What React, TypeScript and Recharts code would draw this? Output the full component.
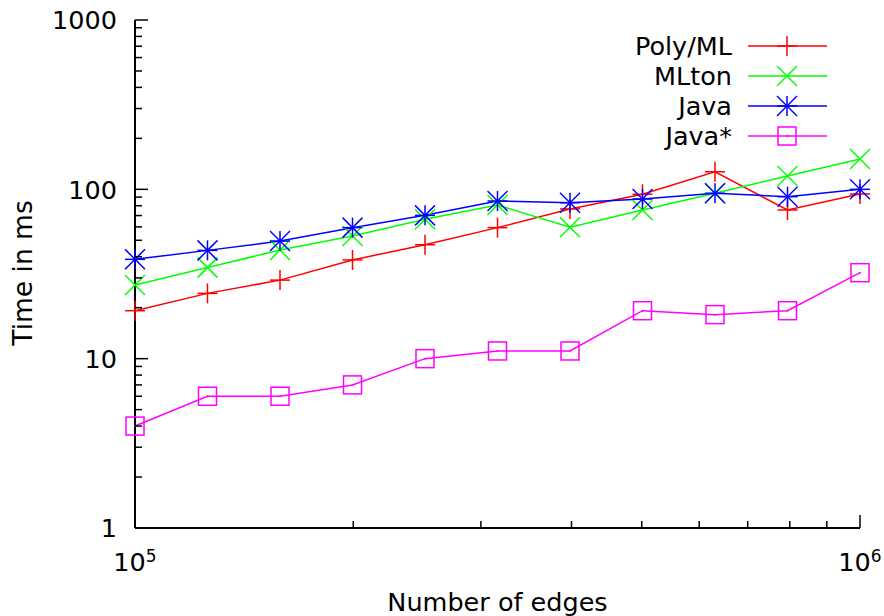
import { LineChart, Line, XAxis, YAxis, Legend, Label } from "recharts";

// number of edges per run (log-spaced)
const edges = [100000, 125893, 158489, 199526, 251189, 316228, 398107, 501187, 630957, 794328, 1000000];

// running times in ms
const polyMl = [19.2, 24.3, 29.1, 38.3, 47.1, 59.4, 76.6, 93.5, 127, 75.5, 93.9];
const mlton = [27.2, 34.5, 43.8, 53, 66.5, 80.8, 59.7, 75.5, 94.8, 120, 151];
const java = [38.6, 43.6, 49.5, 59.4, 70.2, 85.3, 83.4, 87.7, 94.8, 90.5, 100];
const javaStar = [4, 6, 6, 7, 10, 11.1, 11.1, 19.2, 18.2, 19.2, 32.2];

const xTicks = [100000, 200000, 300000, 400000, 500000, 600000, 700000, 800000, 900000, 1000000];
const xMajor = [100000, 1000000];
const xLabels: Record<number, [string, string]> = { 100000: ["10", "5"], 1000000: ["10", "6"] };

const yTicks = [
  1, 2, 3, 4, 5, 6, 7, 8, 9,
  10, 20, 30, 40, 50, 60, 70, 80, 90,
  100, 200, 300, 400, 500, 600, 700, 800, 900,
  1000,
];
const yMajor = [1, 10, 100, 1000];

const FONT = "'DejaVu Sans', sans-serif";
const FS = 25.5;

type Shape = "plus" | "cross" | "star" | "square";

const series: { key: string; name: string; color: string; shape: Shape; values: number[] }[] = [
  { key: "polyml", name: "Poly/ML", color: "#ff0000", shape: "plus", values: polyMl },
  { key: "mlton", name: "MLton", color: "#00ff00", shape: "cross", values: mlton },
  { key: "java", name: "Java", color: "#0000ff", shape: "star", values: java },
  { key: "javastar", name: "Java*", color: "#ff00ff", shape: "square", values: javaStar },
];

const rows = edges.map((e, i) => {
  const row: Record<string, number> = { edges: e };
  series.forEach((s) => (row[s.key] = s.values[i]));
  return row;
});

function Marker({ x, y, shape, color }: { x: number; y: number; shape: Shape; color: string }) {
  const r = 10;
  const sw = 1.5;
  const plus = (
    <>
      <line x1={x - r} x2={x + r} y1={y} y2={y} />
      <line x1={x} x2={x} y1={y - r} y2={y + r} />
    </>
  );
  const cross = (
    <>
      <line x1={x - r} x2={x + r} y1={y - r} y2={y + r} />
      <line x1={x - r} x2={x + r} y1={y + r} y2={y - r} />
    </>
  );
  return (
    <g stroke={color} strokeWidth={sw} fill="none">
      {shape === "plus" && plus}
      {shape === "cross" && cross}
      {shape === "star" && (
        <>
          {plus}
          {cross}
        </>
      )}
      {shape === "square" && (
        <>
          <rect x={x - 9} y={y - 9} width={18} height={18} />
          <circle cx={x} cy={y} r={1} fill={color} stroke="none" />
        </>
      )}
    </g>
  );
}

const makeDot = (shape: Shape, color: string) => (p: any) => {
  if (p.cx == null || p.cy == null) return <g key={p.key ?? p.index} />;
  return (
    <g key={p.key ?? p.index}>
      <Marker x={p.cx} y={p.cy} shape={shape} color={color} />
    </g>
  );
};

const LeftTick = (p: any) => {
  const v = p.payload.value;
  const major = yMajor.includes(v);
  return (
    <g>
      <line x1={p.x} x2={p.x + (major ? 13 : 7)} y1={p.y} y2={p.y} stroke="#000" strokeWidth={1.5} />
      {major && (
        <text x={p.x - 18} y={p.y + 9.2} textAnchor="end" fontFamily={FONT} fontSize={FS} fill="#000">
          {v}
        </text>
      )}
    </g>
  );
};

const RightTick = (p: any) => {
  const major = yMajor.includes(p.payload.value);
  return <line x1={p.x} x2={p.x - (major ? 13 : 7)} y1={p.y} y2={p.y} stroke="#000" strokeWidth={1.5} />;
};

const BottomTick = (p: any) => {
  const v = p.payload.value;
  const major = xMajor.includes(v);
  const lbl = xLabels[v];
  return (
    <g>
      <line x1={p.x} x2={p.x} y1={p.y} y2={p.y - (major ? 13 : 7)} stroke="#000" strokeWidth={1.5} />
      {lbl && (
        <text x={p.x} y={p.y + 43} textAnchor="middle" fontFamily={FONT} fontSize={FS} fill="#000">
          <tspan>{lbl[0]}</tspan>
          <tspan dy={-9} fontSize={17}>
            {lbl[1]}
          </tspan>
        </text>
      )}
    </g>
  );
};

const TopTick = (p: any) => {
  const major = xMajor.includes(p.payload.value);
  return <line x1={p.x} x2={p.x} y1={p.y} y2={p.y + (major ? 13 : 7)} stroke="#000" strokeWidth={1.5} />;
};

const KeyBox = () => (
  <svg width={884} height={616}>
    {series.map((s, i) => {
      const y = 46 + i * 30;
      return (
        <g key={s.key}>
          <text x={732} y={y + 9.2} textAnchor="end" fontFamily={FONT} fontSize={FS} fill="#000">
            {s.name}
          </text>
          <line x1={748} x2={827} y1={y} y2={y} stroke={s.color} strokeWidth={1.5} />
          <Marker x={787} y={y} shape={s.shape} color={s.color} />
        </g>
      );
    })}
  </svg>
);

const axisLine = { stroke: "#000", strokeWidth: 2 };

export default function App() {
  return (
    <div style={{ position: "fixed", left: 0, top: 0, width: 884, height: 616, background: "#fff" }}>
      <LineChart width={884} height={616} data={rows} margin={{ top: 20, right: 24, left: 0, bottom: 0 }}>
        <XAxis
          xAxisId="b"
          dataKey="edges"
          type="number"
          scale="log"
          domain={[100000, 1000000]}
          ticks={xTicks}
          interval={0}
          height={88}
          tickSize={0}
          tickMargin={0}
          tickLine={false}
          axisLine={axisLine}
          tick={BottomTick}
        >
          <Label
            content={(p: any) => (
              <text
                x={p.viewBox.x + p.viewBox.width / 2}
                y={p.viewBox.y + 83}
                textAnchor="middle"
                fontFamily={FONT}
                fontSize={FS}
                fill="#000"
              >
                Number of edges
              </text>
            )}
          />
        </XAxis>
        <XAxis
          xAxisId="t"
          orientation="top"
          dataKey="edges"
          type="number"
          scale="log"
          domain={[100000, 1000000]}
          ticks={xTicks}
          interval={0}
          height={0}
          tickSize={0}
          tickMargin={0}
          tickLine={false}
          axisLine={axisLine}
          tick={TopTick}
        />
        <YAxis
          yAxisId="l"
          type="number"
          scale="log"
          domain={[1, 1000]}
          ticks={yTicks}
          interval={0}
          width={135}
          tickSize={0}
          tickMargin={0}
          tickLine={false}
          axisLine={axisLine}
          tick={LeftTick}
        >
          <Label
            content={() => (
              <text
                x={32}
                y={273}
                transform="rotate(-90 32 273)"
                textAnchor="middle"
                fontFamily={FONT}
                fontSize={26.5}
                fill="#000"
              >
                Time in ms
              </text>
            )}
          />
        </YAxis>
        <YAxis
          yAxisId="r"
          orientation="right"
          type="number"
          scale="log"
          domain={[1, 1000]}
          ticks={yTicks}
          interval={0}
          width={0}
          tickSize={0}
          tickMargin={0}
          tickLine={false}
          axisLine={axisLine}
          tick={RightTick}
        />
        {series.map((s) => (
          <Line
            key={s.key}
            xAxisId="b"
            yAxisId="l"
            dataKey={s.key}
            name={s.name}
            type="linear"
            stroke={s.color}
            strokeWidth={1.5}
            dot={makeDot(s.shape, s.color)}
            activeDot={false}
            isAnimationActive={false}
          />
        ))}
        <Legend
          layout="horizontal"
          verticalAlign="middle"
          align="center"
          wrapperStyle={{ position: "absolute", left: 0, top: 0, width: 884, height: 616, pointerEvents: "none" }}
          content={() => <KeyBox />}
        />
      </LineChart>
    </div>
  );
}
